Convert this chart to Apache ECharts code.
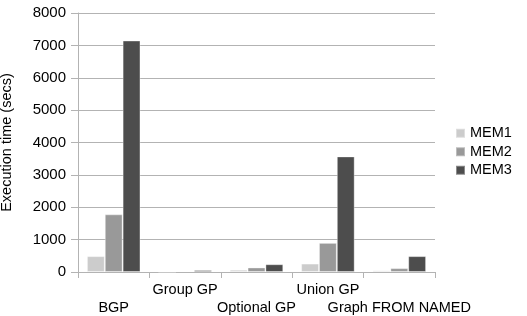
<!DOCTYPE html>
<html><head><meta charset="utf-8">
<script src="https://cdn.jsdelivr.net/npm/echarts@6/dist/echarts.min.js"></script>
<style>html,body{margin:0;padding:0;background:#fff}#c{width:527px;height:316px}</style>
</head><body><div id="c"></div>
<script>
var categories = ['BGP', 'Group GP', 'Optional GP', 'Union GP', 'Graph FROM NAMED'];
var mem1 = [490, 5, 70, 260, 50];
var mem2 = [1780, 30, 140, 900, 120];
var mem3 = [7150, 60, 240, 3570, 490];
var seriesNames = ['MEM1', 'MEM2', 'MEM3'];
var colors = ['#cccccc', '#999999', '#4d4d4d'];
var font = 'Liberation Sans, Arial, sans-serif';
var chart = echarts.init(document.getElementById('c'), null, {renderer: 'canvas'});
var data = [mem1, mem2, mem3];
chart.setOption({
  animation: false,
  grid: {left: 78, right: 92, top: 13, bottom: 44, containLabel: false, outerBoundsMode: 'none'},
  legend: {
    orient: 'vertical', left: 455, top: 125, itemWidth: 9, itemHeight: 9, itemGap: 2, padding: [0, 0],
    icon: 'rect',
    textStyle: {fontFamily: font, fontSize: 14.5, color: '#000', lineHeight: 16.5},
    data: seriesNames
  },
  xAxis: {
    type: 'category', data: categories,
    axisLine: {lineStyle: {color: '#b3b3b3'}},
    axisTick: {show: true, length: 6, lineStyle: {color: '#b3b3b3'}},
    axisLabel: {
      interval: 0, margin: 9, color: '#000', fontFamily: font, fontSize: 14.5, lineHeight: 18,
      formatter: function (v, i) { return i % 2 === 0 ? '\n' + v : v; }
    }
  },
  yAxis: {
    type: 'value', min: 0, max: 8000, interval: 1000,
    name: 'Execution time (secs)', nameLocation: 'middle', nameGap: 64,
    nameTextStyle: {fontFamily: font, fontSize: 14.5, color: '#000'},
    axisLine: {show: true, lineStyle: {color: '#b3b3b3'}},
    axisTick: {show: true, length: 7, lineStyle: {color: '#b3b3b3'}},
    axisLabel: {margin: 12, color: '#000', fontFamily: font, fontSize: 15,
      formatter: function (v) { return String(v); }},
    splitLine: {lineStyle: {color: '#b3b3b3'}}
  },
  series: seriesNames.map(function (n, k) {
    return {
      name: n, type: 'bar', data: data[k], barGap: '0%', barCategoryGap: '25%',
      itemStyle: {color: colors[k], borderColor: 'rgba(255,255,255,0.35)', borderWidth: 1}
    };
  })
});
</script></body></html>
